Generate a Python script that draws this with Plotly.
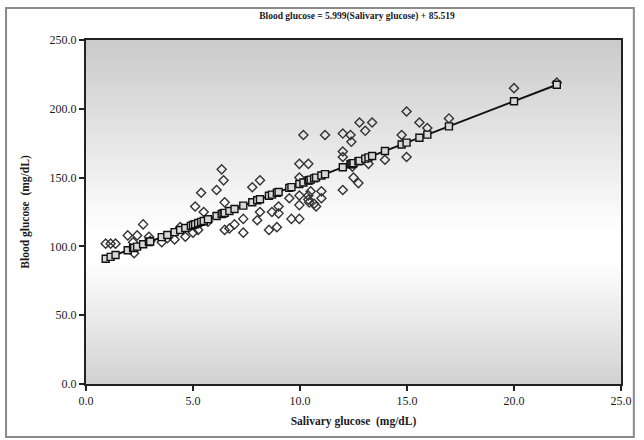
import plotly.graph_objects as go

salivary = [0.92, 1.15, 1.38, 1.95, 2.25, 2.2, 2.39, 2.67, 2.94, 3.54,
            4.14, 4.4, 4.64, 5.0, 5.1, 5.24, 5.38, 5.5, 6.1, 6.34,
            6.43, 6.48, 6.48, 6.7, 6.94, 7.35, 7.35, 7.77, 8.13, 8.0,
            8.13, 8.55, 8.69, 8.92, 9.0, 9.0, 9.5, 9.6, 9.97, 9.97,
            10.39, 9.97, 9.97, 10.39, 10.5, 10.66, 10.16, 11.17, 12.0, 12.36,
            12.4, 12.0, 12.0, 12.45, 13.2, 13.97, 14.98, 14.75, 12.5, 12.73,
            12.0, 11.0, 11.0, 10.43, 10.75, 12.78, 13.37, 13.05, 14.98, 15.58,
            15.95, 16.96, 20.0, 22.0, 9.97, 10.39, 3.0, 3.8, 4.9, 5.7]
blood = [102, 102, 102, 108, 95, 103, 108, 116, 107, 103,
         105, 114, 107, 110, 129, 112, 139, 125, 141, 156,
         148, 132, 112, 113, 116, 110, 120, 143, 148, 119,
         125, 112, 125, 114, 129, 124, 135, 120, 120, 160,
         160, 150, 137, 134, 140, 131, 181, 181, 182, 181,
         176, 169, 165, 158, 160, 163, 165, 181, 150, 146,
         141, 140, 135, 132, 129, 190, 190, 184, 198, 190,
         186, 193, 215, 219, 130, 137, 104, 106, 115, 118]

slope = 5.999
intercept = 85.519

x_ticks = [0, 5, 10, 15, 20, 25]
y_ticks = [0, 50, 100, 150, 200, 250]

fit_x = sorted(set(salivary))
fit_y = [slope * v + intercept for v in fit_x]

fig = go.Figure()

fig.add_trace(go.Scatter(
    x=salivary, y=blood, mode="markers",
    marker=dict(symbol="diamond-open", size=7, color="#333333",
                line=dict(width=1.4, color="#333333")),
    showlegend=False, hoverinfo="x+y"))

fig.add_trace(go.Scatter(
    x=fit_x, y=fit_y, mode="lines+markers",
    line=dict(color="#111111", width=2),
    marker=dict(symbol="square", size=7, color="#d8d8d8",
                line=dict(width=1.4, color="#111111")),
    showlegend=False))

# gradient background bands (styling)
def col(v):
    v = int(round(v))
    return f"rgb({v},{v},{v})"

shapes = []
N = 80
top_c, mid_c, bot_c = 202, 255, 210
mid_lo, mid_hi = 0.36, 0.44
for i in range(N):
    f0 = i / N
    f1 = (i + 1) / N
    fc = (f0 + f1) / 2
    if fc >= mid_hi:
        t = (fc - mid_hi) / (1 - mid_hi)
        c = mid_c + (top_c - mid_c) * t
    elif fc <= mid_lo:
        t = (mid_lo - fc) / mid_lo
        c = mid_c + (bot_c - mid_c) * t
    else:
        c = mid_c
    shapes.append(dict(type="rect", xref="x domain", yref="y domain",
                       x0=0, x1=1, y0=f0, y1=f1 + 0.002, layer="below",
                       line=dict(width=0), fillcolor=col(c)))

# outer frame
L, R, T, B = 86, 16, 40, 56
pw, ph = 644 - L - R, 440 - T - B
shapes.append(dict(type="rect", xref="paper", yref="paper",
                   x0=(5 - L) / pw, x1=(641 - L) / pw,
                   y0=(440 - B - 437) / ph, y1=(440 - B - 8) / ph,
                   line=dict(color="#8a8a8a", width=2), fillcolor="rgba(0,0,0,0)"))

fig.update_layout(
    width=644, height=440,
    margin=dict(l=L, r=R, t=T, b=B),
    paper_bgcolor="white", plot_bgcolor="white",
    shapes=shapes,
    font=dict(family="Liberation Serif", size=12, color="#1a1a1a"),
    title=dict(text="<b>Blood glucose = 5.999(Salivary glucose) + 85.519</b>",
               x=(L + 644 - R) / 2 / 644, xanchor="center", y=1 - 16 / 440, yanchor="middle",
               font=dict(family="Liberation Serif", size=9.5, color="#1a1a1a")),
    xaxis=dict(range=[0, 25], tickvals=x_ticks, tickformat=".1f",
               showgrid=False, zeroline=False, showline=True, linecolor="#222222",
               linewidth=2, mirror=True, ticks="outside", ticklen=5, tickwidth=1.5,
               tickcolor="#222222",
               title=dict(text="<b>Salivary glucose  (mg/dL)</b>", standoff=10,
                          font=dict(family="Liberation Serif", size=11.5)),
               tickfont=dict(family="Liberation Serif", size=12)),
    yaxis=dict(range=[0, 250], tickvals=y_ticks, tickformat=".1f",
               showgrid=False, zeroline=False, showline=True, linecolor="#222222",
               linewidth=2, mirror=True, ticks="outside", ticklen=5, tickwidth=1.5,
               tickcolor="#222222",
               title=dict(text="<b>Blood glucose  (mg/dL)</b>", standoff=18,
                          font=dict(family="Liberation Serif", size=11.5)),
               tickfont=dict(family="Liberation Serif", size=12)),
)

fig.write_html("out.html", config={"displayModeBar": False},
               post_script="document.body.style.margin='0';document.body.style.overflow='hidden';")
